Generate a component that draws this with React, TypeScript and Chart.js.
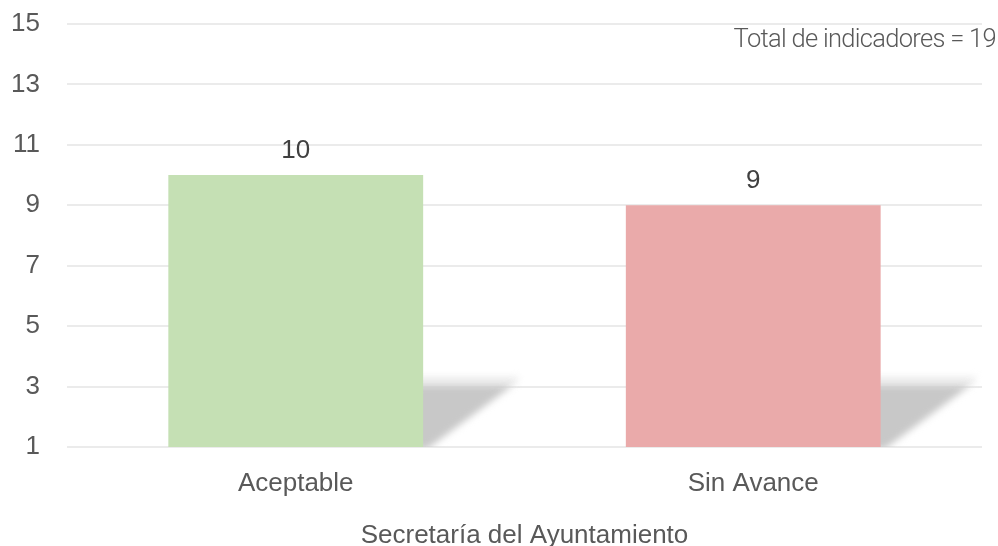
import React, { useEffect, useRef } from "react";
import { Chart, registerables } from "chart.js";

Chart.register(...registerables);

const categories = ["Aceptable", "Sin Avance"];
const values = [10, 9];
const barColors = ["#c5e0b4", "#eaaaaa"];
const axisTitle = "Secretaría del Ayuntamiento";
const totalNote = "Total de indicadores = 19";
const yMin = 1;
const yMax = 15;
const yStep = 2;

const FONT = "'Liberation Sans', Arial, sans-serif";

const shadowPlugin = {
  id: "barShadow",
  beforeDatasetsDraw(chart: any) {
    const ctx = chart.ctx;
    const meta = chart.getDatasetMeta(0);
    const base = chart.chartArea.bottom;
    meta.data.forEach((bar: any) => {
      const p = bar.getProps(["x", "width"], true);
      const right = p.x + p.width / 2;
      const h = 62;
      ctx.save();
      ctx.beginPath();
      ctx.rect(right - 30, base - h - 30, 160, h + 30);
      ctx.clip();
      ctx.filter = "blur(3.5px)";
      ctx.fillStyle = "#ebebeb";
      ctx.beginPath();
      ctx.moveTo(right - 20, base - h - 8);
      ctx.lineTo(right + 96, base - h - 8);
      ctx.lineTo(right + 92, base - h);
      ctx.lineTo(right - 20, base - h);
      ctx.closePath();
      ctx.fill();
      ctx.fillStyle = "#c8c8c8";
      ctx.beginPath();
      ctx.moveTo(right - 20, base - h);
      ctx.lineTo(right + 90, base - h);
      ctx.lineTo(right + 4, base + 2);
      ctx.lineTo(right - 20, base + 2);
      ctx.closePath();
      ctx.fill();
      ctx.restore();
    });
  },
};

const labelPlugin = {
  id: "valueLabels",
  afterDatasetsDraw(chart: any) {
    const ctx = chart.ctx;
    const meta = chart.getDatasetMeta(0);
    ctx.save();
    ctx.font = `26px ${FONT}`;
    ctx.fillStyle = "#404040";
    ctx.textAlign = "center";
    ctx.textBaseline = "middle";
    meta.data.forEach((bar: any, i: number) => {
      const p = bar.getProps(["x", "y"], true);
      ctx.fillText(String(values[i]), p.x, p.y - 24);
    });
    ctx.restore();
  },
  afterDraw(chart: any) {
    const ctx = chart.ctx;
    ctx.save();
    ctx.font = `300 25.5px Roboto, sans-serif`;
    try {
      (ctx as any).letterSpacing = "-0.7px";
    } catch (e) {}
    ctx.fillStyle = "#595959";
    ctx.textAlign = "right";
    ctx.textBaseline = "middle";
    ctx.fillText(totalNote, chart.width - 2, 41);
    ctx.restore();
  },
};

export default function App() {
  const ref = useRef<HTMLCanvasElement | null>(null);
  useEffect(() => {
    if (!ref.current) return;
    const chart = new Chart(ref.current, {
      type: "bar",
      data: {
        labels: categories,
        datasets: [
          {
            data: values,
            backgroundColor: barColors,
            borderWidth: 0,
            barPercentage: 0.557,
            categoryPercentage: 1,
          },
        ],
      },
      options: {
        animation: false,
        responsive: true,
        maintainAspectRatio: false,
        layout: { padding: { top: 0, right: 16, left: 0, bottom: 0 } },
        plugins: {
          legend: { display: false },
          tooltip: { enabled: false },
        },
        scales: {
          x: {
            grid: { display: false },
            border: { display: false },
            ticks: {
              color: "#595959",
              font: { family: FONT, size: 26 },
              padding: 13,
            },
            title: {
              display: true,
              text: axisTitle,
              color: "#595959",
              font: { family: FONT, size: 26 },
              padding: { top: 0, bottom: -5 },
            },
            afterFit: (s: any) => {
              s.height = 99;
            },
          },
          y: {
            min: yMin,
            max: yMax,
            grid: { color: "#ebebeb", lineWidth: 2, drawTicks: false },
            border: { display: false },
            ticks: {
              stepSize: yStep,
              color: "#595959",
              font: { family: FONT, size: 26 },
              padding: 27,
            },
            afterFit: (s: any) => {
              s.width = 67;
              s.paddingTop = 24;
              s.paddingBottom = 0;
            },
          },
        },
      },
      plugins: [shadowPlugin, labelPlugin],
    });
    return () => chart.destroy();
  }, []);
  return (
    <div style={{ position: "absolute", left: 0, top: 0, width: 998, height: 546 }}>
      <canvas ref={ref} />
    </div>
  );
}
